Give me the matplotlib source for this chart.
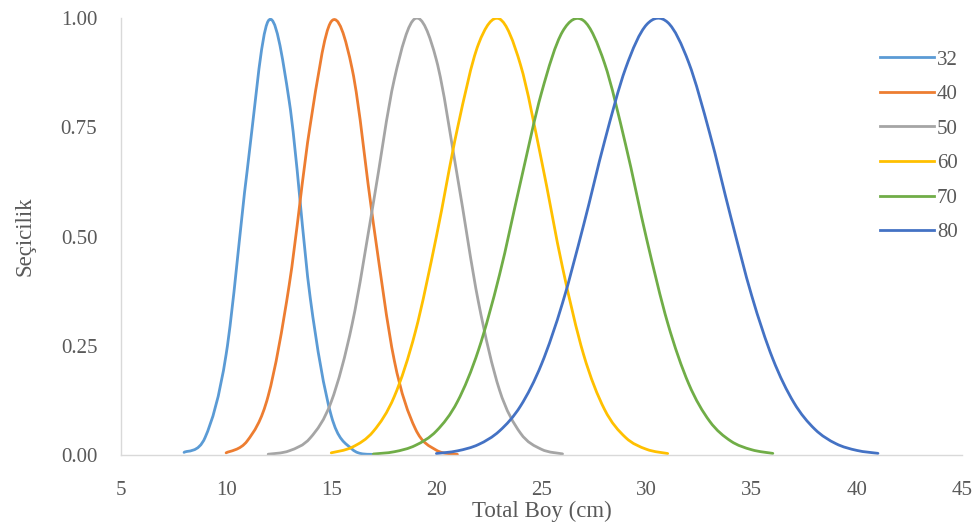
import matplotlib
matplotlib.use("Agg")
import matplotlib.pyplot as plt
from matplotlib.path import Path
from matplotlib.patches import PathPatch
from matplotlib.lines import Line2D
import numpy as np

# ---- data ----
labels = ["32", "40", "50", "60", "70", "80"]

len_32 = [8, 9, 10, 11, 12, 13, 14, 15, 16, 17]
sel_32 = [0.006, 0.04, 0.23, 0.65, 0.993, 0.81, 0.36, 0.09, 0.013, 0.001]

len_40 = [10, 11, 12, 13, 14, 15, 16, 17, 18, 19, 20, 21]
sel_40 = [0.005, 0.032, 0.135, 0.389, 0.755, 0.992, 0.882, 0.531, 0.216, 0.060, 0.011, 0.0014]

len_50 = [12, 13, 14, 15, 16, 17, 18, 19, 20, 21, 22, 23, 24, 25, 26]
sel_50 = [0.0018, 0.0096, 0.039, 0.122, 0.301, 0.576, 0.860, 0.999, 0.904, 0.637,
          0.350, 0.149, 0.050, 0.013, 0.0026]

len_60 = [15, 16, 17, 18, 19, 20, 21, 22, 23, 24, 25, 26, 27, 28, 29, 30, 31]
sel_60 = [0.005, 0.018, 0.054, 0.134, 0.282, 0.500, 0.747, 0.940, 0.998, 0.893,
          0.674, 0.429, 0.230, 0.104, 0.040, 0.013, 0.0034]

len_70 = [17, 18, 19, 20, 21, 22, 23, 24, 25, 26, 27, 28, 29, 30, 31, 32, 33, 34, 35, 36]
sel_70 = [0.0023, 0.0075, 0.022, 0.055, 0.122, 0.240, 0.412, 0.624, 0.829, 0.969,
          0.994, 0.896, 0.710, 0.494, 0.302, 0.163, 0.077, 0.032, 0.012, 0.0037]

len_80 = [20, 21, 22, 23, 24, 25, 26, 27, 28, 29, 30, 31, 32, 33, 34, 35, 36, 37, 38, 39, 40, 41]
sel_80 = [0.0034, 0.0095, 0.024, 0.055, 0.112, 0.208, 0.348, 0.526, 0.718, 0.885,
          0.985, 0.990, 0.898, 0.736, 0.545, 0.364, 0.220, 0.120, 0.059, 0.026, 0.0105, 0.0038]

series_x = [len_32, len_40, len_50, len_60, len_70, len_80]
series_y = [sel_32, sel_40, sel_50, sel_60, sel_70, sel_80]
colors = ["#5B9BD5", "#ED7D31", "#A5A5A5", "#FFC000", "#70AD47", "#4472C4"]

x_ticks = [5, 10, 15, 20, 25, 30, 35, 40, 45]
y_ticks = [0.0, 0.25, 0.5, 0.75, 1.0]

plt.rcParams["font.family"] = ["Liberation Serif", "DejaVu Serif"]

fig = plt.figure(figsize=(9.78, 5.25), dpi=100)
ax = fig.add_axes([0.1237, 0.1333, 0.8600, 0.8324])


def smooth_path(xs, ys):
    """Excel-style smoothed line: cubic Bezier segments through the data points."""
    p = np.column_stack([xs, ys]).astype(float)
    n = len(p)
    verts = [p[0]]
    codes = [Path.MOVETO]
    for i in range(n - 1):
        p0 = p[i - 1] if i > 0 else p[i]
        p1 = p[i]
        p2 = p[i + 1]
        p3 = p[i + 2] if i + 2 < n else p[i + 1]
        c1 = p1 + (p2 - p0) / 6.0
        c2 = p2 - (p3 - p1) / 6.0
        verts += [c1, c2, p2]
        codes += [Path.CURVE4] * 3
    return Path(verts, codes)


handles = []
for xs, ys, c, lab in zip(series_x, series_y, colors, labels):
    patch = PathPatch(smooth_path(xs, ys), facecolor="none", edgecolor=c,
                      linewidth=2.0, capstyle="round", joinstyle="round")
    ax.add_patch(patch)
    handles.append(Line2D([], [], color=c, linewidth=2.0, label=lab))

ax.set_xlim(5, 45)
ax.set_ylim(0, 1.0)
ax.set_xticks(x_ticks)
ax.set_yticks(y_ticks)
ax.set_yticklabels([f"{v:.2f}" for v in y_ticks])

for s in ["top", "right"]:
    ax.spines[s].set_visible(False)
for s in ["left", "bottom"]:
    ax.spines[s].set_color("#D9D9D9")
    ax.spines[s].set_linewidth(1.0)

ax.tick_params(axis="both", length=0, colors="#595959", labelsize=15)
ax.tick_params(axis="y", pad=17)
ax.tick_params(axis="x", pad=19)

ax.set_xlabel("Total Boy (cm)", fontsize=16.5, color="#595959", labelpad=0)
ax.set_ylabel("Seçicilik", fontsize=16.5, color="#595959", labelpad=18)

leg = ax.legend(handles=handles, loc="upper left", bbox_to_anchor=(0.892, 0.946),
                frameon=False, fontsize=15, handlelength=2.6, handletextpad=0.15,
                labelspacing=0.72, borderaxespad=0)
for t in leg.get_texts():
    t.set_color("#595959")

fig.savefig("out.png", dpi=100)
